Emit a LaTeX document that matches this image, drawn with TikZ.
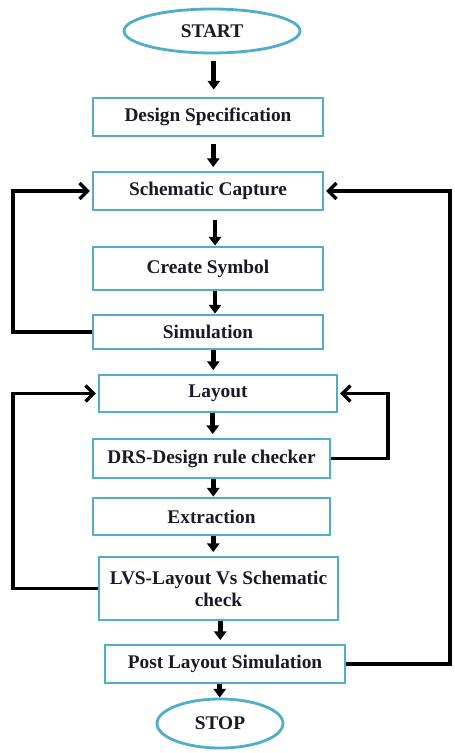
\documentclass[tikz,border=0pt]{standalone}
\usepackage{fontspec}
\setmainfont{Liberation Serif}
\usepackage{tikz}
\usetikzlibrary{positioning}
\usetikzlibrary{shapes,arrows.meta}
\definecolor{boxblue}{RGB}{80,174,200}
\definecolor{textdark}{RGB}{25,25,40}
\tikzset{
	flowbox/.style={draw=boxblue, line width=1.6pt, fill=white, rectangle, inner sep=1pt,
		align=center, text=textdark, font=\fontsize{11}{12.5}\selectfont\bfseries},
	terminal/.style={flowbox, ellipse},
	flowarrow/.style={line width=2.6pt, -{Triangle[width=7pt,length=5pt]}, shorten >=2pt},
	looparrow/.style={line width=1.9pt, -{Straight Barb[width=9pt,length=4.5pt]}, shorten >=1pt},
}
\begin{document}
\begin{tikzpicture}[x=0.02cm, y=-0.02cm]
		\useasboundingbox (0,0) rectangle (454,753);
		\node[terminal, minimum width=3.52cm, minimum height=0.88cm] (start) at (212,31) {START};
		\node[flowbox, minimum width=4.6cm, minimum height=0.76cm] (spec) at (208,117) {Design Specification};
		\node[flowbox, minimum width=4.6cm, minimum height=0.76cm] (capture) at (208,191) {Schematic Capture};
		\node[flowbox, minimum width=4.6cm, minimum height=0.86cm] (symbol) at (208,268.5) {Create Symbol};
		\node[flowbox, minimum width=4.6cm, minimum height=0.68cm] (sim) at (208,332) {Simulation};
		\node[flowbox, minimum width=4.76cm, minimum height=0.74cm] (layout) at (218,393.5) {Layout};
		\node[flowbox, minimum width=4.74cm, minimum height=0.78cm] (drc) at (211.5,458.5) {DRS-Design rule checker};
		\node[flowbox, minimum width=4.74cm, minimum height=0.74cm] (extract) at (211.5,516.5) {Extraction};
		\node[flowbox, minimum width=4.78cm, minimum height=1.26cm] (lvs) at (218.5,588.5) {LVS-Layout Vs Schematic\\check};
		\node[flowbox, minimum width=4.8cm, minimum height=0.76cm] (post) at (225,664) {Post Layout Simulation};
		\node[terminal, minimum width=2.52cm, minimum height=0.98cm] (stop) at (220,723.5) {STOP};
		\coordinate (lx) at (13,0);
		\coordinate (rxa) at (388,0);
		\coordinate (rxb) at (450,0);
		\draw[flowarrow, shorten <=4pt, shorten >=4pt] ([xshift=1pt]start.south) -- ([xshift=1pt]start.south |- spec.north);
		\draw[flowarrow, shorten <=4pt] ([xshift=3pt]spec.south) -- ([xshift=3pt]spec.south |- capture.north);
		\draw[flowarrow, shorten <=5pt, shorten >=0pt] ([xshift=4pt]capture.south) -- ([xshift=4pt]capture.south |- symbol.north);
		\draw[flowarrow, shorten >=0pt] ([xshift=4pt]symbol.south) -- ([xshift=4pt]symbol.south |- sim.north);
		\draw[flowarrow] ([xshift=3pt]sim.south) -- ([xshift=3pt]sim.south |- layout.north);
		\draw[flowarrow] ([xshift=-3pt]layout.south) -- ([xshift=-3pt]layout.south |- drc.north);
		\draw[flowarrow, shorten >=0pt] ([xshift=1pt]drc.south) -- ([xshift=1pt]drc.south |- extract.north);
		\draw[flowarrow] ([xshift=1pt]extract.south) -- ([xshift=1pt]extract.south |- lvs.north);
		\draw[flowarrow] ([xshift=1pt]lvs.south) -- ([xshift=1pt]lvs.south |- post.north);
		\draw[flowarrow, shorten >=0pt] ([xshift=-3pt]post.south) -- ([xshift=-3pt]post.south |- stop.north);
		\draw[looparrow] (sim.west) -- (sim.west -| lx) |- (capture.west);
		\draw[looparrow] (lvs.west) -- (lvs.west -| lx) |- (layout.west);
		\draw[looparrow] (drc.east) -- (drc.east -| rxa) |- (layout.east);
		\draw[looparrow] (post.east) -- (post.east -| rxb) |- (capture.east);
	\end{tikzpicture}
\end{document}
